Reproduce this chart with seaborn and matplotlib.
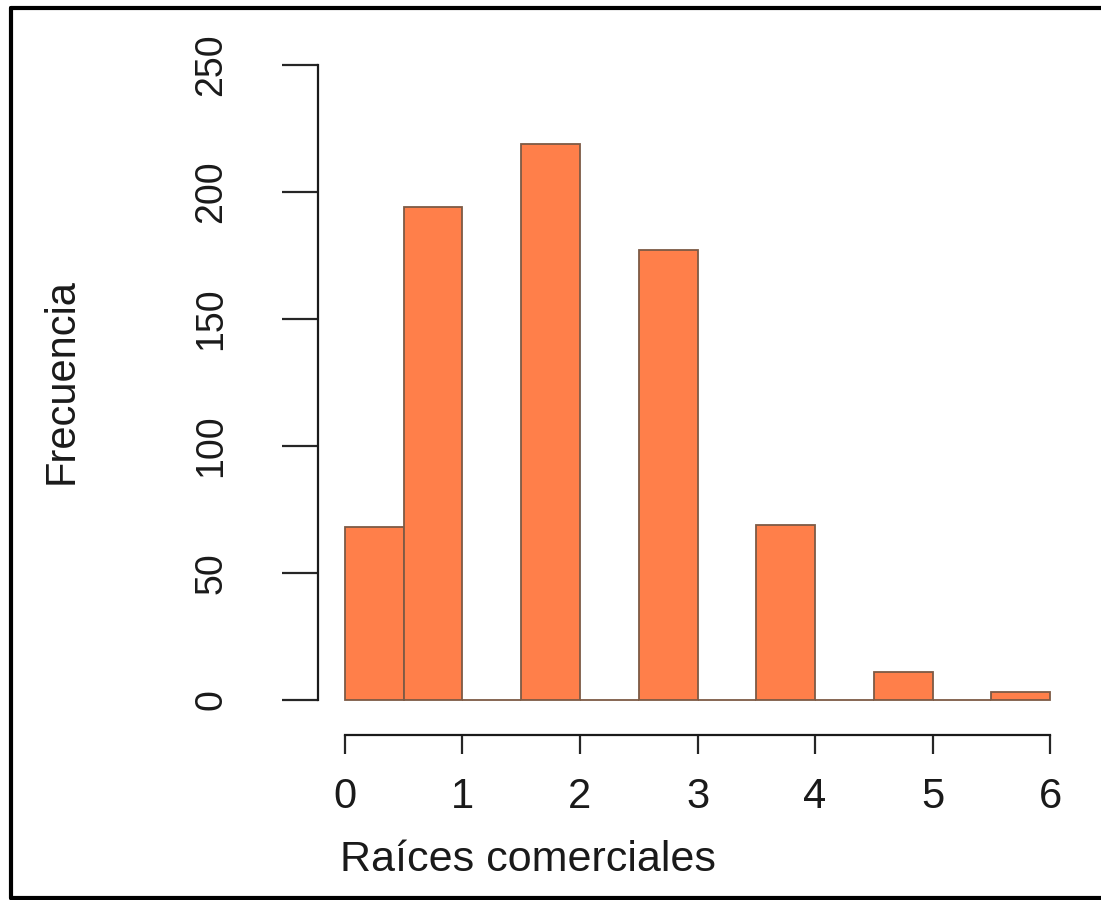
import matplotlib.pyplot as plt
import numpy as np
import seaborn as sns
from matplotlib.lines import Line2D

# Histogram counts (bins of width 0.5)
bin_edges = [0, 0.5, 1, 1.5, 2, 2.5, 3, 3.5, 4, 4.5, 5, 5.5, 6]
counts    = [68, 194, 0, 219, 0, 177, 0, 69, 0, 11, 0, 3]
y_ticks   = [0, 50, 100, 150, 200, 250]
x_ticks   = [0, 1, 2, 3, 4, 5, 6]

sns.set_style("white")
plt.rcParams["font.family"] = ["Liberation Sans", "DejaVu Sans"]

fig = plt.figure(figsize=(11.01, 9.0), dpi=100)
ax = fig.add_axes([0.2888, 0.1833, 0.6921, 0.75])

mids = (np.array(bin_edges[:-1]) + np.array(bin_edges[1:])) / 2
sns.histplot(x=mids, weights=counts, bins=bin_edges, ax=ax,
             color="#FF7F4A", edgecolor="#7d5a45", linewidth=1.3, alpha=1)

ax.set_xlim(-0.23, 6.255)
ax.set_ylim(-13.8, 252)

for s in ["top", "right"]:
    ax.spines[s].set_visible(False)
ax.spines["left"].set_bounds(0, 250)
ax.spines["bottom"].set_bounds(0, 6)
for s in ["left", "bottom"]:
    ax.spines[s].set_linewidth(1.6)
    ax.spines[s].set_color("#1a1a1a")

ax.set_xticks(x_ticks)
ax.set_yticks(y_ticks)
ax.set_xticklabels([str(v) for v in x_ticks], fontsize=30, color="#1a1a1a")
ax.set_yticklabels([str(v) for v in y_ticks], fontsize=27, rotation=90,
                   va="center", color="#1a1a1a")
ax.tick_params(axis="x", length=14, width=1.6, pad=16, direction="out", bottom=True)
ax.tick_params(axis="y", length=26, width=1.6, pad=38, direction="out", left=True)

ax.set_xlabel("Raíces comerciales", fontsize=31, color="#1a1a1a")
ax.set_ylabel("Frecuencia", fontsize=30, color="#1a1a1a")
ax.xaxis.set_label_coords(0.275, -0.155)
ax.yaxis.set_label_coords(-0.31, 0.525)

# outer frame (left, top, bottom)
lw = 3
fig.add_artist(Line2D([11 / 1101, 11 / 1101], [2 / 900, 892 / 900], color="black", lw=lw, transform=fig.transFigure))
fig.add_artist(Line2D([11 / 1101, 1.0], [892 / 900, 892 / 900], color="black", lw=lw, transform=fig.transFigure))
fig.add_artist(Line2D([11 / 1101, 1.0], [2 / 900, 2 / 900], color="black", lw=lw, transform=fig.transFigure))

fig.savefig("out.png", dpi=100, facecolor="white")
